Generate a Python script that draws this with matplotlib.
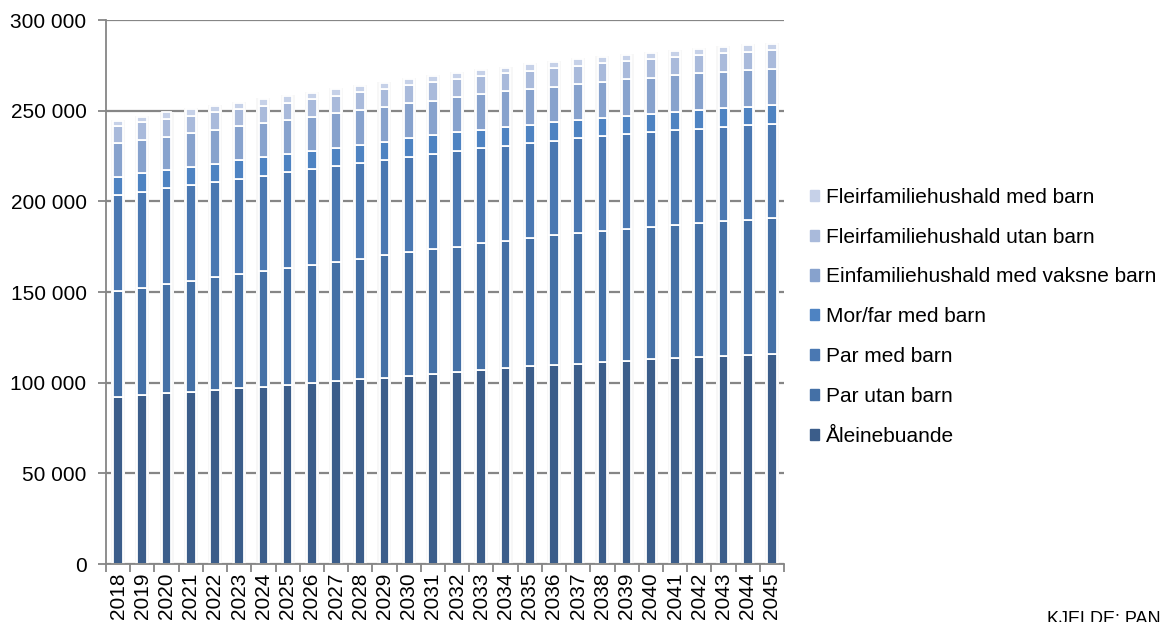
import numpy as np
import matplotlib
matplotlib.use("Agg")
from matplotlib import pyplot as plt
import matplotlib.patches as mpatches
from matplotlib.ticker import FuncFormatter, MultipleLocator

plt.rcParams['font.family'] = ['Liberation Sans', 'DejaVu Sans']

years = [str(y) for y in range(2018, 2046)]

# values in thousands of households
aleinebuande = [92.0, 93.2, 94.1, 95.0, 96.0, 96.9, 97.8, 98.9, 99.7, 100.8,
                101.9, 102.8, 103.9, 104.8, 105.9, 106.8, 108.1, 109.0, 109.8, 110.5,
                111.4, 112.0, 112.9, 113.4, 114.2, 114.7, 115.3, 115.8]
par_utan_barn = [58.7, 59.2, 60.3, 61.3, 62.1, 62.9, 63.8, 64.2, 65.1, 65.8,
                 66.3, 67.6, 68.0, 68.8, 69.1, 70.1, 70.2, 70.6, 71.5, 71.9,
                 72.3, 72.6, 73.0, 73.8, 73.9, 74.3, 74.6, 75.0]
par_med_barn = [52.8, 52.6, 52.8, 52.7, 52.5, 52.6, 52.6, 53.1, 53.1, 52.9,
                52.8, 52.4, 52.7, 52.4, 52.8, 52.4, 52.3, 52.4, 52.2, 52.4,
                52.4, 52.6, 52.4, 52.2, 52.0, 52.2, 52.2, 51.9]
mor_far_med_barn = [10.1, 10.5, 10.1, 9.8, 10.0, 10.4, 10.1, 10.1, 9.9, 9.8,
                    10.1, 10.1, 10.2, 10.5, 10.3, 10.1, 10.3, 10.1, 10.3, 10.1,
                    10.1, 9.9, 9.9, 9.9, 10.3, 10.1, 10.1, 10.3]
einfamilie_vaksne = [18.4, 18.4, 18.4, 18.7, 18.8, 18.5, 19.0, 18.8, 18.9, 19.3,
                     19.3, 19.3, 19.3, 19.0, 19.3, 19.7, 19.7, 19.7, 19.5, 19.7,
                     19.7, 20.2, 20.0, 20.2, 20.2, 20.1, 20.1, 20.0]
fleirfamilie_utan = [9.6, 9.7, 9.8, 9.8, 9.7, 9.5, 9.5, 9.4, 9.8, 9.7,
                     9.8, 9.8, 9.9, 10.2, 9.9, 10.1, 10.0, 10.1, 10.1, 10.2,
                     10.3, 10.0, 10.2, 10.0, 10.2, 10.3, 10.1, 10.3]
fleirfamilie_med = [2.9, 3.1, 3.5, 3.5, 3.5, 3.7, 3.5, 3.6, 3.5, 3.5,
                    3.4, 3.4, 3.3, 3.5, 3.7, 3.3, 3.2, 3.7, 3.6, 3.6,
                    3.4, 3.6, 3.6, 3.6, 3.4, 3.6, 3.7, 3.5]

labels = ['Åleinebuande', 'Par utan barn', 'Par med barn', 'Mor/far med barn',
          'Einfamiliehushald med vaksne barn', 'Fleirfamiliehushald utan barn',
          'Fleirfamiliehushald med barn']
colors = ['#3b5d8a', '#4470a6', '#4a78b2', '#4e83c2', '#87a2cd', '#a9badb', '#c6d1e8']
series = [aleinebuande, par_utan_barn, par_med_barn, mor_far_med_barn,
          einfamilie_vaksne, fleirfamilie_utan, fleirfamilie_med]

fig = plt.figure(figsize=(11.67, 6.22), dpi=100)
ax = fig.add_axes([106/1167, 1 - 564/622, 678/1167, 544/622])

x = np.arange(len(years))
data = np.array(series) * 1000
totals = data.sum(axis=0)

# soft shadow around bars
ax.bar(x, totals + 500, width=0.58, color='#f7f7f7', zorder=1)
ax.bar(x, totals + 300, width=0.47, color='#ebebeb', zorder=1.2)

bottom = np.zeros(len(years))
for vals, col in zip(data, colors):
    ax.bar(x, vals, width=0.40, bottom=bottom, color=col, edgecolor='white',
           linewidth=1.3, zorder=2)
    bottom += vals

ax.set_xlim(-0.5, len(years) - 0.5)
ax.set_ylim(0, 300000)
ax.yaxis.set_major_locator(MultipleLocator(50000))
ax.yaxis.set_major_formatter(FuncFormatter(lambda v, p: f"{int(v):,}".replace(",", " ")))
ax.grid(axis='y', color='#868686', linewidth=1.6, zorder=0)
ax.set_axisbelow(True)

ax.set_xticks(x)
ax.set_xticklabels(years, rotation=90, va='top')
ax.set_xticks(np.arange(-0.5, len(years), 1), minor=True)
ax.tick_params(axis='x', which='major', length=0, labelsize=15, pad=6)
ax.tick_params(axis='x', which='minor', length=6, color='#868686', width=1.3)
ax.tick_params(axis='y', length=6, color='#868686', width=1.3, labelsize=15, pad=8)

for s in ['top', 'right']:
    ax.spines[s].set_visible(False)
for s in ['left', 'bottom']:
    ax.spines[s].set_color('#868686')
    ax.spines[s].set_linewidth(1.3)

handles = [mpatches.Patch(color=c, label=l) for c, l in zip(colors, labels)]
fig.legend(handles[::-1], labels[::-1], loc='upper left',
           bbox_to_anchor=(791/1167, 1 - 169/622), frameon=False, fontsize=15,
           handlelength=0.45, handleheight=0.45, handletextpad=0.35, labelspacing=1.0)

fig.text(1047/1167, 1 - 611/622, 'KJELDE: PAN', fontsize=13, va='top', ha='left')

fig.savefig('out.png', dpi=100)
